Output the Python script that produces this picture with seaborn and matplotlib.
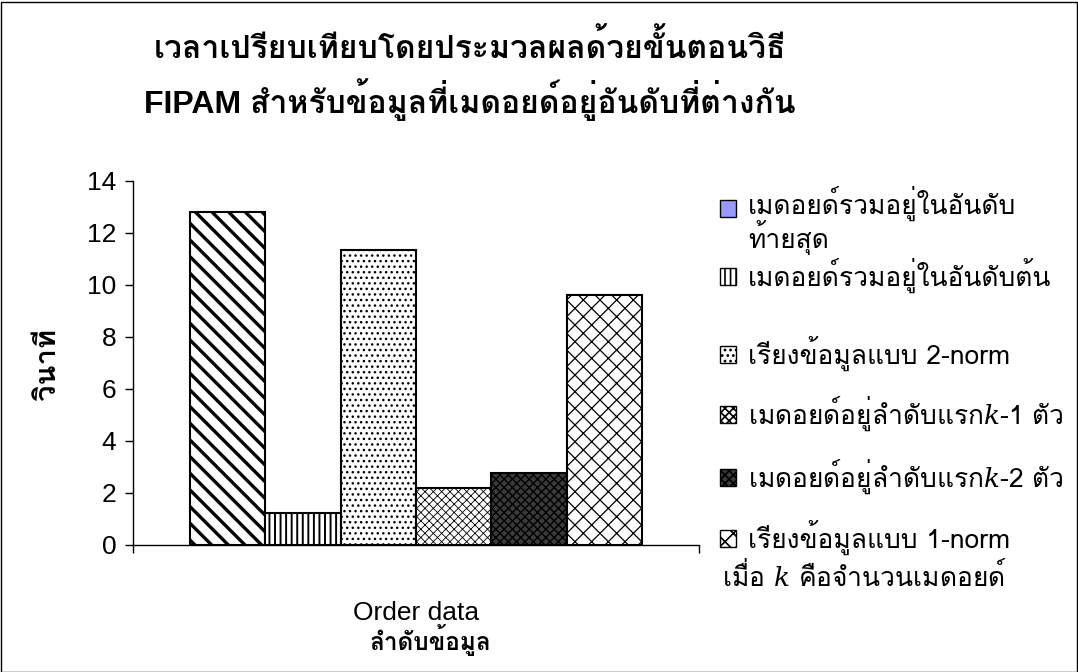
import numpy as np
import pandas as pd
import matplotlib
matplotlib.use("Agg")
import matplotlib.pyplot as plt
import matplotlib.patheffects as pe
import seaborn as sns
from matplotlib import font_manager
from matplotlib.ft2font import FT2Font
from matplotlib.patches import Patch, Rectangle
from matplotlib.font_manager import FontProperties
from matplotlib.legend_handler import HandlerPatch

# ---------------- data ----------------
categories = ["Order data"]
series = [
    "เมดอยด์รวมอยู่ในอันดับ\nท้ายสุด",
    "เมดอยด์รวมอยู่ในอันดับต้น",
    "เรียงข้อมูลแบบ 2-norm",
    "เมดอยด์อยู่ลำดับแรก$k$-1 ตัว",
    "เมดอยด์อยู่ลำดับแรก$k$-2 ตัว",
    "เรียงข้อมูลแบบ 1-norm",
]
values = [12.82, 1.23, 11.36, 2.21, 2.77, 9.63]
yticks = [0, 2, 4, 6, 8, 10, 12, 14]
title = "เวลาเปรียบเทียบโดยประมวลผลด้วยขั้นตอนวิธี\nFIPAM สำหรับข้อมูลที่เมดอยด์อยู่อันดับที่ต่างกัน"
ylabel = "วินาที"
xlabel = "ลำดับข้อมูล"
note = "เมื่อ $k$ คือจำนวนเมดอยด์"

# ---------------- fonts ----------------
def find_thai():
    cands = {}
    for f in font_manager.fontManager.ttflist:
        try:
            if 0x0E01 in FT2Font(f.fname).get_charmap():
                w = f.weight if isinstance(f.weight, int) else (700 if "bold" in str(f.weight) else 400)
                cands.setdefault(f.name, set()).add(w)
        except Exception:
            pass
    pref = ["Noto Sans Thai", "Noto Sans Thai UI", "Tahoma", "Loma", "Garuda",
            "Sarabun", "Noto Looped Thai", "Norasi", "Kinnari"]
    ordered = [p for p in pref if p in cands] + [c for c in cands if c not in pref]
    for name in ordered:
        if max(cands[name]) >= 600:
            return name, True
    if ordered:
        return ordered[0], False
    return None, False

sns.set_theme(style="white")
thai, thai_bold = find_thai()
fam = ["Liberation Sans"] + ([thai] if thai else []) + ["DejaVu Sans"]
thai_only = ([thai] if thai else []) + ["DejaVu Sans"]
plt.rcParams["font.family"] = fam
plt.rcParams["hatch.linewidth"] = 1.2
plt.rcParams["mathtext.fontset"] = "dejavuserif"
for k in ["text.color", "axes.labelcolor", "xtick.color", "ytick.color"]:
    plt.rcParams[k] = "black"

bold_fx = [] if thai_bold else [pe.Stroke(linewidth=1.1, foreground="black"), pe.Normal()]

W, H = 1078, 672
fig = plt.figure(figsize=(W / 100, H / 100), dpi=100)
fig.patch.set_facecolor("white")
ax = fig.add_axes([133 / W, 1 - 545 / H, (699 - 133) / W, (545 - 181) / H])

df = pd.DataFrame({
    "cat": categories * len(series),
    "series": series,
    "value": values,
})
sns.barplot(data=df, x="cat", y="value", hue="series", hue_order=series,
            palette=["white"] * len(series), saturation=1, edgecolor="black",
            linewidth=1.5, width=0.8, ax=ax, legend=False)

hatches = ["\\\\", "|||", "...", "xxxx", "xxxx", "xx"]
faces = ["white", "white", "white", "white", "#3a3a3a", "white"]
hatch_lw = [2.4, 1.4, 1.0, 0.6, 1.0, 0.9]
for cont, h, fc, lw in zip(ax.containers, hatches, faces, hatch_lw):
    for bar in cont:
        bar.set_hatch(h)
        bar.set_facecolor(fc)
        bar.set_edgecolor("black")
        if hasattr(bar, "set_hatch_linewidth"):
            bar.set_hatch_linewidth(lw)

ax.set_ylim(0, 14)
ax.set_xlim(-0.5, 0.5)
ax.set_yticks(yticks)
ax.set_yticklabels([str(t) for t in yticks])
ax.set_xticks([-0.5, 0.5])
ax.set_xticklabels(["", ""])
ax.set_xticks([0], minor=True)
ax.set_xticklabels(categories, minor=True)
ax.tick_params(axis="y", direction="out", length=6, width=1, color="black",
               labelsize=19, pad=6, left=True)
ax.tick_params(axis="x", which="major", direction="out", length=6, width=1,
               color="black", bottom=True)
ax.tick_params(axis="x", which="minor", length=0, labelsize=19, pad=40)
ax.set_xlabel("")
ax.set_ylabel("")
for s in ["top", "right"]:
    ax.spines[s].set_visible(False)
for s in ["left", "bottom"]:
    ax.spines[s].set_color("black")
    ax.spines[s].set_linewidth(1)
ax.grid(False)

tw = "bold" if thai_bold else "normal"
title_lines = title.split("\n")
title_y = [48, 100]
for line, yy in zip(title_lines, title_y):
    fig.text(470 / W, 1 - yy / H, line, ha="center", va="center",
             fontsize=23, fontweight=tw, path_effects=bold_fx)
fig.text(48 / W, 1 - 365 / H, ylabel, rotation=90, ha="center", va="center",
         fontsize=21, fontweight=tw, path_effects=bold_fx)
fig.text(430 / W, 1 - 640 / H, xlabel, ha="center", va="center",
         fontsize=17.5, fontweight=tw, path_effects=bold_fx)

# ---------------- legend ----------------
legend_faces = ["#9999FF", "white", "white", "white", "#3a3a3a", "white"]
legend_hatches = [None, "|||", "...", "xxxx", "xxxx", "xx"]
handles = [Patch(facecolor=fc, edgecolor="black", hatch=h, linewidth=1)
           for fc, h in zip(legend_faces, legend_hatches)]

leg_size = 19
leg_prop = FontProperties(family=thai_only, size=leg_size)
first_linespacing = 0.95

# line pitch of the two-line label, so the first marker sits on its first line
renderer = fig.canvas.get_renderer()
t_two = fig.text(0, 0, series[0], fontproperties=leg_prop,
                 linespacing=first_linespacing)
t_one = fig.text(0, 0, series[0].split("\n")[-1], fontproperties=leg_prop)
pitch_px = (t_two.get_window_extent(renderer).height
            - t_one.get_window_extent(renderer).height)
t_two.remove()
t_one.remove()
shift_pt = 0.35 * pitch_px * 72.0 / fig.dpi


def top_patch(legend, orig_handle, xdescent, ydescent, width, height, fontsize):
    return Rectangle((-xdescent, -ydescent + shift_pt), width, height)


common = dict(loc="upper left", frameon=False, prop=leg_prop,
              handlelength=0.62, handleheight=0.62, handletextpad=0.45,
              borderaxespad=0, borderpad=0)
leg1 = fig.legend(handles[:2], series[:2],
                  bbox_to_anchor=(720 / W, 1 - 186 / H), labelspacing=0.1,
                  handler_map={handles[0]: HandlerPatch(patch_func=top_patch)},
                  **common)
leg1.get_texts()[0].set_linespacing(first_linespacing)
leg2 = fig.legend(handles[2:], series[2:],
                  bbox_to_anchor=(720 / W, 1 - 336 / H), labelspacing=0.9,
                  **common)
fig.text(722 / W, 1 - 575 / H, note, ha="left", va="center",
         fontsize=leg_size, family=thai_only)

fig.add_artist(Rectangle((0.5 / W, 0.5 / H), 1 - 2 / W, 1 - 2 / H,
                         transform=fig.transFigure, fill=False,
                         edgecolor="black", linewidth=1))

fig.savefig("out.png", dpi=100)
